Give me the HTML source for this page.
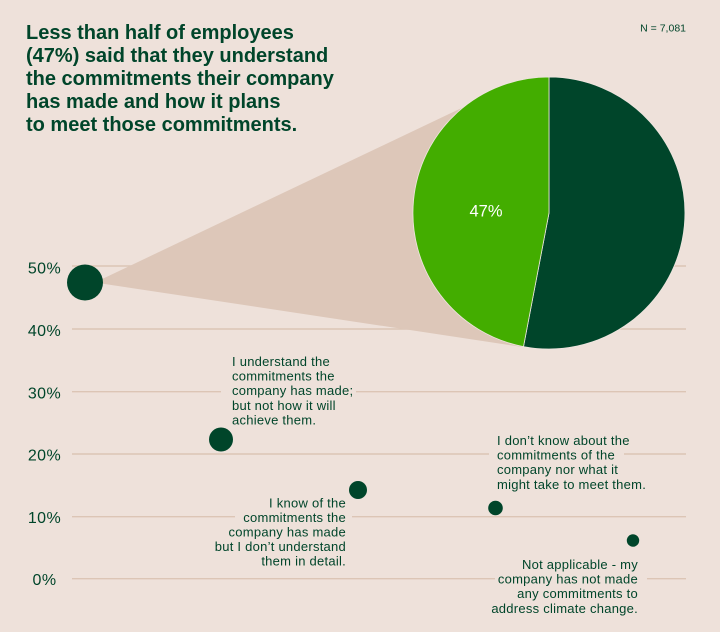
<!DOCTYPE html>
<html>
<head>
<meta charset="utf-8">
<style>
  html,body{margin:0;padding:0;background:#eee1da;}
  svg{display:block;}
  .t{font-family:"Liberation Sans",sans-serif;font-weight:bold;font-size:20px;fill:#00452a;}
  .ax{font-family:"Liberation Sans",sans-serif;font-size:16px;fill:#00452a;letter-spacing:0.4px;}
  .lb{font-family:"Liberation Sans",sans-serif;font-size:13px;fill:#00452a;letter-spacing:0.25px;}
</style>
</head>
<body>
<svg width="720" height="632" viewBox="0 0 720 632" xmlns="http://www.w3.org/2000/svg">
  <rect x="0" y="0" width="720" height="632" fill="#eee1da"/>

  <!-- title -->
  <text class="t" x="26" y="39">Less than half of employees</text>
  <text class="t" x="26" y="62">(47%) said that they understand</text>
  <text class="t" x="26" y="85">the commitments their company</text>
  <text class="t" x="26" y="108">has made and how it plans</text>
  <text class="t" x="26" y="131">to meet those commitments.</text>

  <text x="686" y="31.5" text-anchor="end" font-family="Liberation Sans, sans-serif" font-size="10.5" fill="#00452a">N = 7,081</text>

  <!-- gridlines -->
  <g stroke="#dcc5b5" stroke-width="1.4">
    <line x1="72" y1="266" x2="686" y2="266"/>
    <line x1="72" y1="329" x2="686" y2="329"/>
    <line x1="72" y1="391.7" x2="221" y2="391.7"/>
    <line x1="356" y1="391.7" x2="686" y2="391.7"/>
    <line x1="72" y1="454" x2="489" y2="454"/>
    <line x1="624" y1="454" x2="686" y2="454"/>
    <line x1="72" y1="516.7" x2="235" y2="516.7"/>
    <line x1="352" y1="516.7" x2="686" y2="516.7"/>
    <line x1="72" y1="578.7" x2="495" y2="578.7"/>
    <line x1="647" y1="578.7" x2="686" y2="578.7"/>
  </g>

  <!-- axis labels -->
  <text class="ax" x="44.5" y="273.5" text-anchor="middle">50%</text>
  <text class="ax" x="44.5" y="336" text-anchor="middle">40%</text>
  <text class="ax" x="44.5" y="398.5" text-anchor="middle">30%</text>
  <text class="ax" x="44.5" y="460.5" text-anchor="middle">20%</text>
  <text class="ax" x="44.5" y="523" text-anchor="middle">10%</text>
  <text class="ax" x="44.5" y="585" text-anchor="middle">0%</text>

  <!-- cone -->
  <polygon points="98,281 470,104 549,213 522.5,347 98,283" fill="#ddc7b9"/>

  <!-- pie -->
  <path d="M549,213 L523.5,346.6 A136,136 0 1 0 549,77 Z" fill="#00452a" stroke="#efe6e0" stroke-width="0.8"/>
  <path d="M549,213 L549,77 A136,136 0 0 0 523.5,346.6 Z" fill="#43ad00" stroke="#efe6e0" stroke-width="0.8"/>
  <text x="486" y="216.5" text-anchor="middle" font-family="Liberation Sans, sans-serif" font-size="16.5" fill="#ffffff">47%</text>

  <!-- bubbles -->
  <circle cx="85" cy="282.5" r="18" fill="#00452a"/>
  <circle cx="221" cy="439.5" r="12" fill="#00452a"/>
  <circle cx="358" cy="490" r="9" fill="#00452a"/>
  <circle cx="495.5" cy="508" r="7.3" fill="#00452a"/>
  <circle cx="633" cy="540.5" r="6.2" fill="#00452a"/>

  <!-- labels -->
  <g class="lb">
    <text x="232" y="366">I understand the</text>
    <text x="232" y="380.6">commitments the</text>
    <text x="232" y="395.2">company has made;</text>
    <text x="232" y="409.8">but not how it will</text>
    <text x="232" y="424.4">achieve them.</text>
  </g>
  <g class="lb" text-anchor="end">
    <text x="346" y="507.3">I know of the</text>
    <text x="346" y="521.9">commitments the</text>
    <text x="346" y="536.5">company has made</text>
    <text x="346" y="551.1">but I don’t understand</text>
    <text x="346" y="565.7">them in detail.</text>
  </g>
  <g class="lb">
    <text x="497" y="445">I don’t know about the</text>
    <text x="497" y="459.6">commitments of the</text>
    <text x="497" y="474.2">company nor what it</text>
    <text x="497" y="488.8">might take to meet them.</text>
  </g>
  <g class="lb" text-anchor="end">
    <text x="638" y="569">Not applicable - my</text>
    <text x="638" y="583.6">company has not made</text>
    <text x="638" y="598.2">any commitments to</text>
    <text x="638" y="612.8">address climate change.</text>
  </g>
</svg>
</body>
</html>
